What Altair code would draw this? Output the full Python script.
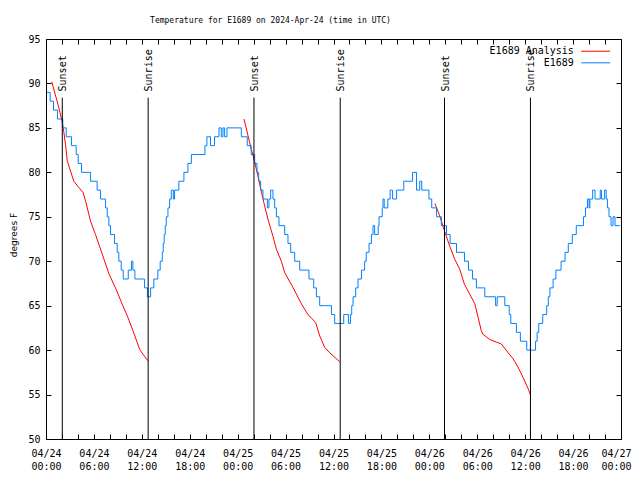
import altair as alt
import pandas as pd

# ---- data (hours since 2024-04-24 00:00 UTC) ----
obs_hours = [0.1, 0.52, 0.94, 1.44, 2.1, 2.53, 3.2, 3.78, 4.03, 4.45, 5.58, 6.4, 6.83, 7.46, 7.67,
             7.87, 8.08, 8.58, 8.92, 9.12, 9.42, 9.67, 10.3, 10.7, 10.88, 11.13, 12.34, 12.7, 13.1,
             13.5, 14.0, 14.3, 14.56, 14.68, 14.8, 14.93, 15.06, 15.27, 15.48, 15.69, 15.94, 16.1,
             16.64, 17.27, 17.77, 18.2, 19.9, 20.15, 20.6, 21.1, 21.66, 21.95, 22.16, 22.37, 22.66,
             24.46, 25.2, 25.7, 26.13, 26.42, 26.63, 26.88, 27.17, 27.72, 27.92, 28.13, 28.42, 28.63,
             28.85, 29.17, 29.89, 30.3, 30.64, 31.14, 31.77, 32.93, 33.52, 33.86, 34.27, 35.74, 36.15,
             37.28, 37.87, 38.12, 38.28, 38.45, 38.78, 39.07, 39.5, 39.9, 40.1, 40.45, 40.75, 40.95,
             41.15, 41.6, 41.7, 42.1, 42.2, 42.35, 42.8, 43.1, 43.4, 43.9, 44.8, 45.9, 46.4, 46.8,
             47.05, 47.95, 48.3, 48.9, 49.5, 50.15, 50.6, 51.4, 52.4, 52.9, 53.4, 53.9, 54.95, 56.3,
             56.5, 57.45, 58.0, 58.2, 58.9, 59.4, 60.2, 61.3, 61.5, 61.7, 62.2, 62.7, 62.9, 63.1,
             63.5, 63.85, 64.5, 65.0, 65.4, 65.9, 66.4, 67.3, 67.55, 67.8, 68.0, 68.1, 68.45, 68.75,
             69.4, 69.55, 69.95, 70.15, 70.3, 70.5, 70.75, 71.0, 71.25, 71.9]
obs_temps = [89, 88, 87, 86, 85, 84, 83, 82, 81, 80, 79, 78, 77, 76, 75,
             74, 73, 72, 71, 70, 69, 68, 69, 70, 69, 68, 67, 66, 67,
             68, 69, 70, 71, 72, 73, 74, 75, 76, 77, 78, 77, 78,
             79, 80, 81, 82, 83, 84, 83, 84, 85, 84, 85, 84, 85,
             84, 83, 82, 81, 80, 79, 78, 77, 76, 77, 78, 77, 76,
             75, 74, 73, 72, 71, 70, 69, 68, 67, 66, 65, 64, 63,
             64, 63, 64, 65, 66, 67, 68, 69, 70, 71, 72, 73, 74,
             73, 74, 75, 76, 77, 76, 77, 78, 77, 78, 79, 80, 78, 79,
             78, 77, 76, 75, 74, 73, 72, 71, 70, 69, 68, 67, 66, 65,
             66, 65, 64, 63, 62, 61, 60, 61, 62, 63, 64, 65, 66, 67,
             68, 69, 70, 71, 72, 73, 74, 75, 76, 77, 76, 77, 78, 77,
             78, 77, 78, 77, 76, 75, 74, 75, 74, 74]

ana_hours = [0.72, 1.6, 2.0, 2.24, 2.45, 2.66, 2.94, 3.48, 4.1, 4.66, 4.95, 5.58, 6.2, 7.04, 7.87,
             8.8, 9.62, 10.25, 10.88, 11.72, 12.13, 12.76,
             24.8, 25.3, 25.7, 26.04, 26.54, 27.17, 27.8, 28.42, 28.85, 29.47, 29.89, 30.93, 31.98,
             32.8, 33.77, 34.27, 34.9, 35.53, 36.78,
             48.7, 49.3, 49.9, 50.55, 51.2, 51.8, 52.4, 53.05, 53.7, 54.1, 54.5, 54.7, 55.55, 56.4,
             57.0, 57.7, 58.5, 59.1, 59.75, 60.4, 60.7]
ana_temps = [90.2, 87.3, 85.8, 84.5, 83.1, 81.3, 80.5, 79.0, 78.3, 77.7, 76.8, 74.5, 73.0, 70.8, 68.6,
             66.8, 65.0, 63.7, 62.2, 60.1, 59.55, 58.8,
             86.0, 84.1, 82.6, 81.5, 79.6, 77.0, 74.7, 72.8, 71.35, 70.0, 68.7, 67.05, 65.2,
             64.0, 63.1, 61.6, 60.3, 59.7, 58.7,
             76.5, 75.1, 73.4, 71.7, 70.2, 69.1, 67.4, 66.3, 65.2, 63.7, 62.2, 61.8, 61.2, 60.9,
             60.7, 59.9, 59.0, 58.1, 56.9, 55.6, 54.9]
ana_run = [1] * 22 + [2] * 19 + [3] * 21

sun_hours = [2.04, 12.79, 26.04, 36.84, 49.9, 60.66]
sun_labels = ["Sunset", "Sunrise", "Sunset", "Sunrise", "Sunset", "Sunrise"]

series_names = ["E1689 Analysis", "E1689"]
series_colors = ["#ff0000", "#0080ff"]

obs = pd.DataFrame({"hour": obs_hours, "temp": obs_temps, "series": "E1689"})
ana = pd.DataFrame({"hour": ana_hours, "temp": ana_temps, "run": ana_run, "series": "E1689 Analysis"})
sun = pd.DataFrame({"hour": sun_hours, "label": sun_labels})

MONO = "DejaVu Sans Mono"
x_ticks = list(range(0, 73, 2))
y_ticks = list(range(50, 96, 5))
xscale = alt.Scale(domain=[0, 72], nice=False, zero=False)
yscale = alt.Scale(domain=[50, 95], nice=False, zero=False)
color = alt.Color("series:N", scale=alt.Scale(domain=series_names, range=series_colors),
                  legend=alt.Legend(title=None, orient="none", legendX=544.2, legendY=6.7,
                                    symbolType="M-3,0H3", symbolSize=93.4, symbolStrokeWidth=1,
                                    labelFont=MONO, labelFontSize=10, labelColor="black",
                                    labelAlign="right", labelOffset={"expr": "-27.3"},
                                    rowPadding=0.6, padding=0))

label_expr = ("datum.value % 6 == 0 ? ['04/' + (24 + floor(datum.value / 24)), "
              "(datum.value % 24 < 10 ? '0' : '') + (datum.value % 24) + ':00'] : ''")

bottom_axis = alt.Axis(orient="bottom", values=x_ticks, labelExpr=label_expr, domain=False, offset=-5,
                       tickSize=5, tickColor="black", grid=False, labelFont=MONO, labelFontSize=10,
                       labelColor="black", labelPadding=9, labelLineHeight=13.5, labelOverlap=False,
                       labelFlush=False, labelOffset={"expr": "datum.value == 72 ? -5 : 0"},
                       title=None)
left_axis = alt.Axis(orient="left", values=y_ticks, domain=False, offset=-5, tickSize=5,
                     tickColor="black", grid=False, labelFont=MONO, labelFontSize=10,
                     labelColor="black", labelPadding=6, title="degrees F", titleFont="DejaVu Sans",
                     titleFontSize=9, titleFontWeight="normal", titleColor="black", titlePadding=9,
                     titleY=195.5)
top_axis = alt.Axis(orient="top", values=x_ticks, labels=False, domain=False, offset=-5, tickSize=5,
                    tickColor="black", grid=False, title=None)
right_axis = alt.Axis(orient="right", values=y_ticks, labels=False, domain=False, offset=-5, tickSize=5,
                      tickColor="black", grid=False, title=None)

obs_line = alt.Chart(obs).mark_line(interpolate="step-after", strokeWidth=1).encode(
    x=alt.X("hour:Q", scale=xscale, axis=bottom_axis),
    y=alt.Y("temp:Q", scale=yscale, axis=left_axis),
    color=color,
)
ana_line = alt.Chart(ana).mark_line(strokeWidth=1).encode(
    x=alt.X("hour:Q", scale=xscale, axis=top_axis),
    y=alt.Y("temp:Q", scale=yscale, axis=right_axis),
    color=color,
    detail="run:N",
)
sun_rules = alt.Chart(sun).mark_rule(color="black", strokeWidth=1).encode(
    x=alt.X("hour:Q", scale=xscale, axis=None),
    y=alt.YDatum(50, axis=None),
    y2=alt.Y2Datum(88.4),
)
sun_text = alt.Chart(sun).mark_text(angle=270, align="left", baseline="middle", font=MONO,
                                    fontSize=10, color="black", dy=1).encode(
    x=alt.X("hour:Q", scale=xscale, axis=None),
    y=alt.YDatum(89.1, axis=None),
    text="label:N",
)

chart = alt.layer(ana_line, obs_line, sun_rules, sun_text).resolve_axis(
    x="independent", y="independent"
).properties(
    width=575, height=400,
    title=alt.TitleParams("Temperature for E1689 on 2024-Apr-24 (time in UTC)", font=MONO, fontSize=8,
                          fontWeight="normal", color="black", anchor="middle", dx=-63, offset=3,
                          baseline="alphabetic"),
    autosize=alt.AutoSizeParams(type="none"),
    padding={"left": 38, "top": 31, "right": 11, "bottom": 33},
    background="white",
).configure_view(stroke="black", strokeWidth=1)

chart.save("out.html", embed_options={"renderer": "svg", "actions": False})
